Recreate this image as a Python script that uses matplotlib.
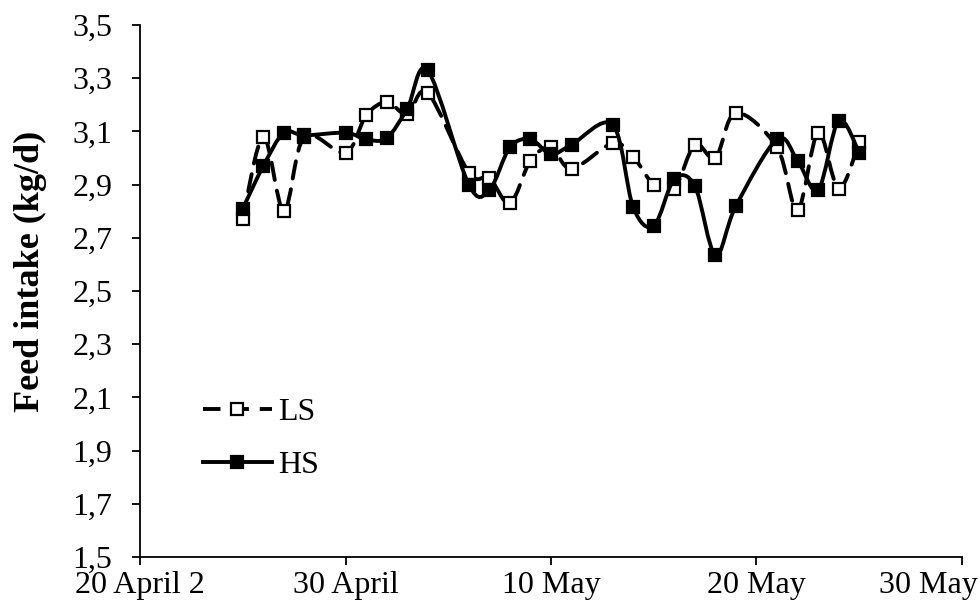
import numpy as np
import pandas as pd
import matplotlib
matplotlib.use("Agg")
import matplotlib.pyplot as plt
import matplotlib.dates as mdates
from matplotlib.path import Path
from matplotlib.patches import PathPatch
from matplotlib.lines import Line2D
from matplotlib.transforms import ScaledTranslation

plt.rcParams["font.family"] = ["Liberation Serif", "DejaVu Serif"]

# Sampling dates (no records on 29 April, 5, 12 and 20 May)
dates = ["2015-04-25", "2015-04-26", "2015-04-27", "2015-04-28", "2015-04-30",
         "2015-05-01", "2015-05-02", "2015-05-03", "2015-05-04", "2015-05-06",
         "2015-05-07", "2015-05-08", "2015-05-09", "2015-05-10", "2015-05-11",
         "2015-05-13", "2015-05-14", "2015-05-15", "2015-05-16", "2015-05-17",
         "2015-05-18", "2015-05-19", "2015-05-21", "2015-05-22", "2015-05-23",
         "2015-05-24", "2015-05-25"]

# Feed intake, kg/d
ls_intake = [2.77, 3.08, 2.80, 3.08, 3.02, 3.16, 3.21, 3.165, 3.245, 2.945,
             2.925, 2.83, 2.99, 3.04, 2.96, 3.055, 3.005, 2.90, 2.885, 3.05,
             3.00, 3.17, 3.04, 2.805, 3.095, 2.885, 3.06]
hs_intake = [2.81, 2.97, 3.095, 3.085, 3.095, 3.07, 3.075, 3.185, 3.33, 2.90,
             2.88, 3.04, 3.07, 3.015, 3.05, 3.125, 2.815, 2.745, 2.92, 2.895,
             2.635, 2.82, 3.07, 2.99, 2.88, 3.14, 3.02]

x_ticks = ["2015-04-20", "2015-04-30", "2015-05-10", "2015-05-20", "2015-05-30"]
x_tick_labels = ["20 April 2", "30 April", "10 May", "20 May", "30 May"]
y_ticks = [1.5, 1.7, 1.9, 2.1, 2.3, 2.5, 2.7, 2.9, 3.1, 3.3, 3.5]


def smooth_path(x, y):
    """Cubic Bezier path through the points (spreadsheet-style smoothing)."""
    pts = np.column_stack([x, y])
    n = len(pts)
    verts = [pts[0]]
    codes = [Path.MOVETO]
    for i in range(n - 1):
        p0 = pts[i - 1] if i > 0 else pts[i]
        p1 = pts[i]
        p2 = pts[i + 1]
        p3 = pts[i + 2] if i + 2 < n else pts[i + 1]
        c1 = p1 + (p2 - p0) / 6.0
        c2 = p2 - (p3 - p1) / 6.0
        verts += [c1, c2, p2]
        codes += [Path.CURVE4] * 3
    return Path(verts, codes)


xd = mdates.date2num(pd.to_datetime(dates))

fig = plt.figure(figsize=(9.8, 6.1), dpi=100)
ax = fig.add_axes([0.1429, 0.0869, 0.8387, 0.8721])

dash = (0, (4.5, 2.8))
lw = 2.8
ms = 9
fs = 23

# LS: dashed smoothed line with open squares
ax.add_patch(PathPatch(smooth_path(xd, ls_intake), fill=False, edgecolor="black",
                       linewidth=lw, linestyle=dash, capstyle="round", zorder=2))
ax.plot(xd, ls_intake, linestyle="none", marker="s", markersize=ms,
        markerfacecolor="white", markeredgecolor="black", markeredgewidth=1.6,
        zorder=3)

# HS: solid smoothed line with filled squares
ax.add_patch(PathPatch(smooth_path(xd, hs_intake), fill=False, edgecolor="black",
                       linewidth=lw, linestyle="-", capstyle="round", zorder=4))
ax.plot(xd, hs_intake, linestyle="none", marker="s", markersize=ms,
        markerfacecolor="black", markeredgecolor="black", markeredgewidth=1.6,
        zorder=5)

xt = mdates.date2num(pd.to_datetime(x_ticks))
ax.set_xlim(xt[0], xt[-1])
ax.set_ylim(1.5, 3.5)
ax.set_xticks(xt)
ax.set_xticklabels(x_tick_labels)
ax.set_yticks(y_ticks)
ax.set_yticklabels([f"{v:.1f}".replace(".", ",") for v in y_ticks])

for side in ("top", "right"):
    ax.spines[side].set_visible(False)
for side in ("left", "bottom"):
    ax.spines[side].set_linewidth(1.3)
ax.tick_params(axis="both", direction="out", length=6, width=1.3,
               labelsize=fs, colors="black")
ax.tick_params(axis="y", pad=14)
ax.tick_params(axis="x", pad=4)

# keep the last date label inside the figure
last = ax.get_xticklabels()[-1]
last.set_horizontalalignment("right")
last.set_transform(last.get_transform() + ScaledTranslation(0.16, 0, fig.dpi_scale_trans))

ax.set_ylabel("Feed intake (kg/d)", fontsize=26, fontweight="bold")
ax.yaxis.set_label_coords(-0.113, 0.5376)

handles = [
    Line2D([], [], color="black", linewidth=lw, linestyle=dash, marker="s",
           markersize=ms, markerfacecolor="white", markeredgecolor="black",
           markeredgewidth=1.6),
    Line2D([], [], color="black", linewidth=lw, linestyle="-", marker="s",
           markersize=ms, markerfacecolor="black", markeredgecolor="black",
           markeredgewidth=1.6),
]
ax.legend(handles, ["LS", "HS"], loc="center left",
          bbox_to_anchor=(0.061, 0.222), frameon=False, fontsize=fs,
          handlelength=2.15, handletextpad=0.2, labelspacing=0.75,
          borderaxespad=0)

fig.savefig("out.png", dpi=100)
